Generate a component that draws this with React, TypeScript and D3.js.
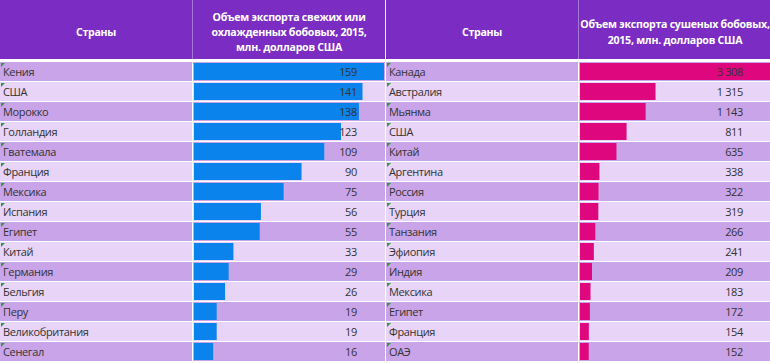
import React, { useEffect } from 'react';
import * as d3 from 'd3';

// Fresh / chilled beans export, 2015, mln USD
const freshCountries = ['Кения', 'США', 'Морокко', 'Голландия', 'Гватемала', 'Франция', 'Мексика', 'Испания', 'Египет', 'Китай', 'Германия', 'Бельгия', 'Перу', 'Великобритания', 'Сенегал'];
const freshValues = [159, 141, 138, 123, 109, 90, 75, 56, 55, 33, 29, 26, 19, 19, 16];

// Dried beans export, 2015, mln USD
const driedCountries = ['Канада', 'Австралия', 'Мьянма', 'США', 'Китай', 'Аргентина', 'Россия', 'Турция', 'Танзания', 'Эфиопия', 'Индия', 'Мексика', 'Египет', 'Франция', 'ОАЭ'];
const driedValues = [3308, 1315, 1143, 811, 635, 338, 322, 319, 266, 241, 209, 183, 172, 154, 152];

const countryHeader = 'Страны';
const freshHeader = ['Объем экспорта свежих или', 'охлажденных бобовых, 2015,', 'млн. долларов США'];
const driedHeader = ['Объем экспорта сушеных бобовых,', '2015, млн. долларов США'];

const W = 770;
const H = 363;
const HEADER_H = 59;
const ROW_TOP = 62;
const ROW_H = 20;

const HEADER_COLOR = '#7b2dc3';
const ROW_DARK = '#c9a4e8';
const ROW_LIGHT = '#e7d4f6';
const TEXT_COLOR = '#333333';
const FONT = '"Open Sans", "Noto Sans", sans-serif';

const ru = d3.formatLocale({ decimal: ',', thousands: '\u00a0', grouping: [3], currency: ['', ' руб.'] });
const fmt = ru.format(',d');

type TableProps = {
  x0: number;
  countries: string[];
  values: number[];
  header: string[];
  headerBaselines: number[];
  barColor: string;
};

const Table = ({ x0, countries, values, header, headerBaselines, barColor }: TableProps) => {
  const colW = 192;
  const valX = x0 + colW + 1;
  const y = d3.scaleBand<number>().domain(d3.range(countries.length)).range([ROW_TOP, ROW_TOP + ROW_H * countries.length]);
  const x = d3.scaleLinear().domain([0, d3.max(values) as number]).range([valX + 1, valX + colW - 1]);

  const headText = { fill: '#fff', fontWeight: 'bold', fontSize: 10.6, fontFamily: FONT, letterSpacing: -0.25 };
  const bodyText = { fill: TEXT_COLOR, fontSize: 11, fontFamily: FONT, letterSpacing: -0.35 };

  return (
    <g>
      <rect x={x0} y={0} width={colW * 2 + 1} height={HEADER_H} fill={HEADER_COLOR} />
      <line x1={x0 + colW + 0.5} x2={x0 + colW + 0.5} y1={0} y2={HEADER_H} stroke="#a777d6" />
      <text x={x0 + colW / 2} y={36} textAnchor="middle" {...headText}>{countryHeader}</text>
      {header.map((t, i) => (
        <text key={i} x={valX + colW / 2} y={headerBaselines[i]} textAnchor="middle" {...headText}>{t}</text>
      ))}
      {countries.map((c, i) => {
        const top = y(i) as number;
        const fill = i % 2 === 0 ? ROW_DARK : ROW_LIGHT;
        return (
          <g key={c}>
            <rect x={x0} y={top} width={colW} height={ROW_H - 1} fill={fill} />
            <rect x={valX} y={top} width={colW} height={ROW_H - 1} fill={fill} />
            <rect x={x(0)} y={top + 1} width={x(values[i]) - x(0)} height={ROW_H - 3} fill={barColor} />
            <path d={`M${x0 + 1},${top + 1}h4l-4,4z`} fill="#2e9a3c" />
            <text x={x0 + 3} y={top + 14} {...bodyText}>{c}</text>
            <text x={valX + colW - 28} y={top + 14} textAnchor="end" {...bodyText}>{fmt(values[i])}</text>
          </g>
        );
      })}
    </g>
  );
};

const App = () => {
  useEffect(() => {
    document.body.style.margin = '0';
  }, []);

  return (
    <svg width={W} height={H} style={{ display: 'block' }}>
      <rect width={W} height={H} fill="#ffffff" />
      <Table x0={0} countries={freshCountries} values={freshValues} header={freshHeader} headerBaselines={[21, 36, 51]} barColor="#0a84ec" />
      <Table x0={386} countries={driedCountries} values={driedValues} header={driedHeader} headerBaselines={[28, 44]} barColor="#df077d" />
    </svg>
  );
};

export default App;
